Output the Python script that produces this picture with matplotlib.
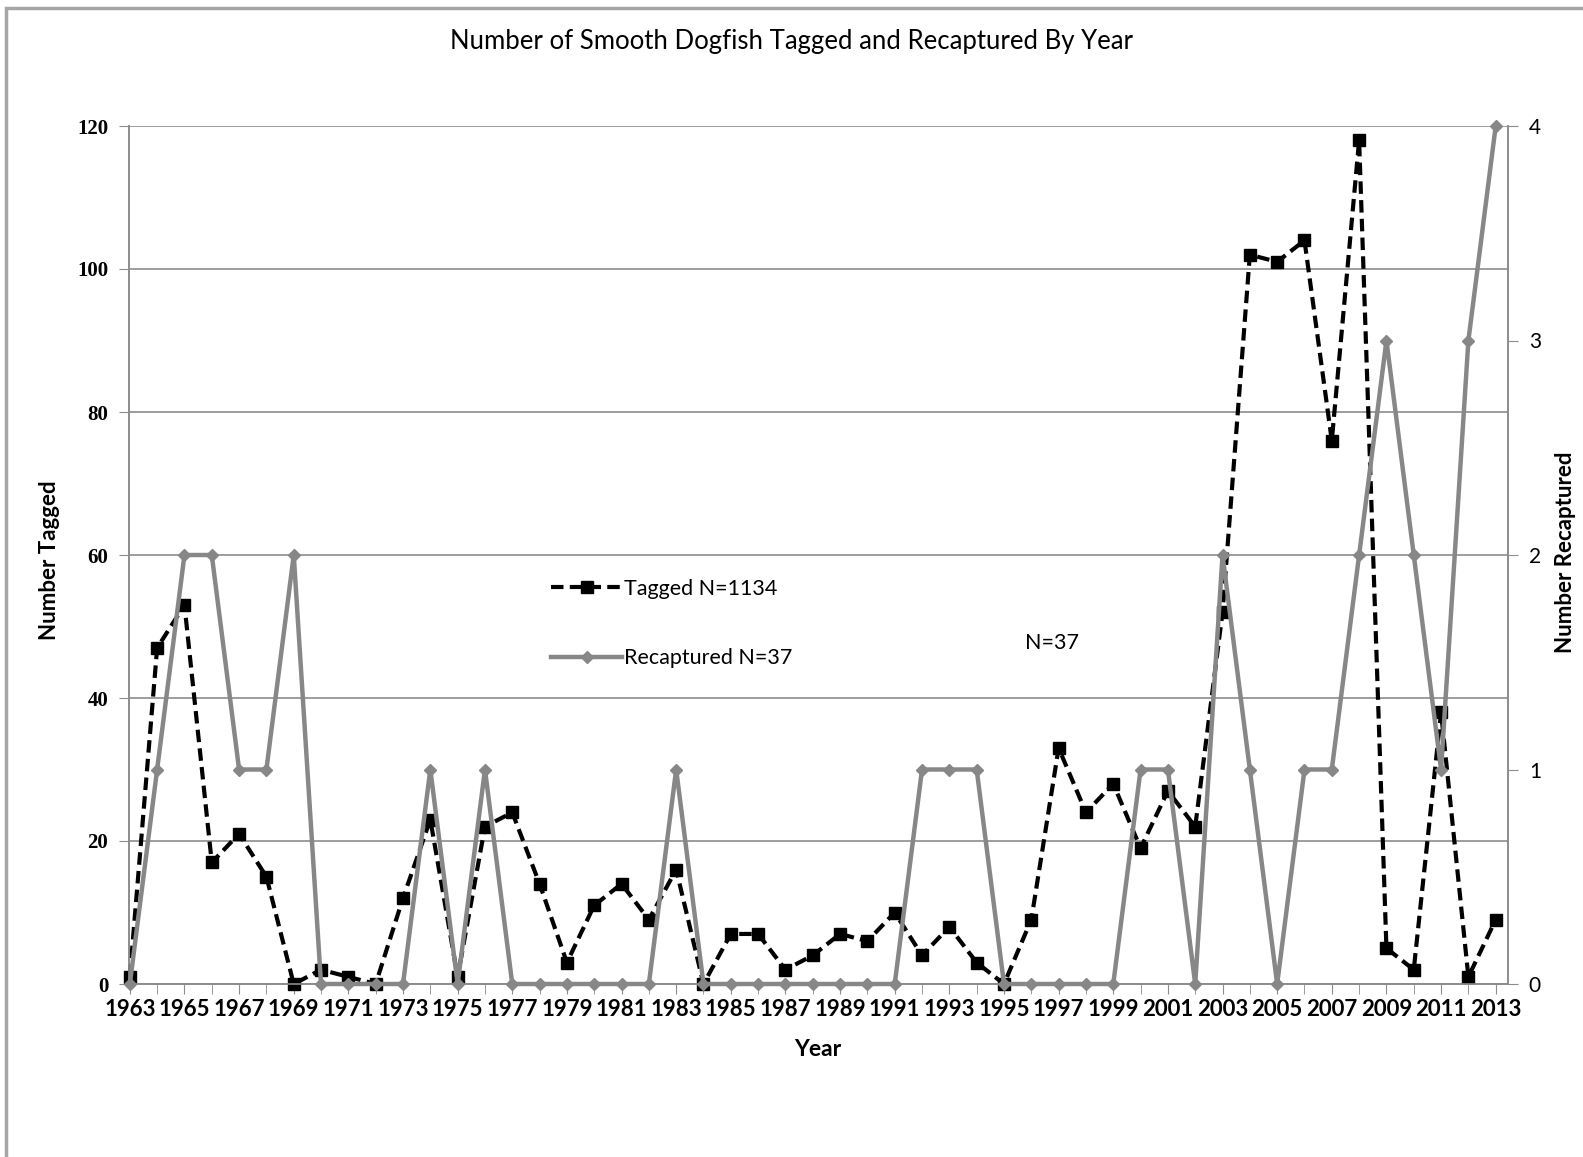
import matplotlib.pyplot as plt
import numpy as np
from matplotlib.lines import Line2D
from matplotlib.patches import Rectangle

# yearly tagging and recapture counts
years = np.arange(1963, 2014)
tagged = [1, 47, 53, 17, 21, 15, 0, 2, 1, 0, 12, 23, 1, 22, 24, 14, 3, 11, 14, 9,
          16, 0, 7, 7, 2, 4, 7, 6, 10, 4, 8, 3, 0, 9, 33, 24, 28, 19, 27, 22,
          52, 102, 101, 104, 76, 118, 5, 2, 38, 1, 9]
recaptured = [0, 1, 2, 2, 1, 1, 2, 0, 0, 0, 0, 1, 0, 1, 0, 0, 0, 0, 0, 0,
              1, 0, 0, 0, 0, 0, 0, 0, 0, 1, 1, 1, 0, 0, 0, 0, 0, 1, 1, 0,
              2, 1, 0, 1, 1, 2, 3, 2, 1, 3, 4]
left_ticks = [0, 20, 40, 60, 80, 100, 120]
right_ticks = [0, 1, 2, 3, 4]

sans = ['Lato', 'DejaVu Sans']
serif = ['Liberation Serif', 'DejaVu Serif']
grey = '#878787'
axis_grey = '#8c8c8c'
dash = (0, (3.0, 1.5))

fig = plt.figure(figsize=(15.83, 11.57), dpi=100)
fig.patches.append(Rectangle((6 / 1583, -0.05), 1.1, 1 - 8 / 1157 + 0.05,
                             transform=fig.transFigure, fill=False,
                             edgecolor='#a6a6a6', linewidth=2.5))

ax = fig.add_axes([129 / 1583, 1 - 984 / 1157, (1508 - 129) / 1583, (984 - 126) / 1157])
ax2 = ax.twinx()

ax.plot(years, tagged, color='black', linestyle=dash, linewidth=3.0,
        marker='s', markersize=8.5, zorder=3, clip_on=False)
ax2.plot(years, recaptured, color=grey, linewidth=3.2, marker='D',
         markersize=6.5, zorder=3, clip_on=False)

ax.set_xlim(1963 - 0.03, 2013.45)
ax.set_ylim(0, 120)
ax2.set_ylim(0, 4)

ax.set_yticks(left_ticks)
ax.set_yticklabels([str(v) for v in left_ticks], fontfamily=serif,
                   fontsize=15, fontweight='bold')
ax2.set_yticks(right_ticks)
ax2.set_yticklabels([str(v) for v in right_ticks], fontfamily=sans, fontsize=15)

ax.set_xticks(years, minor=True)
ax.set_xticks(years[::2])
ax.set_xticklabels([str(y) for y in years[::2]], fontfamily=sans,
                   fontsize=16, fontweight='bold')
ax.tick_params(axis='x', which='both', length=7, color=axis_grey, pad=4)
ax.tick_params(axis='y', length=7, color=axis_grey, pad=8)
ax2.tick_params(axis='y', length=7, color=axis_grey, pad=8)

ax.yaxis.grid(True, color=axis_grey, linewidth=1.2)
for a in (ax, ax2):
    a.spines['top'].set_visible(False)
    for s in ('left', 'right', 'bottom'):
        a.spines[s].set_color(axis_grey)
        a.spines[s].set_linewidth(1.2)

fig.text(0.5, 1 - 42 / 1157, 'Number of Smooth Dogfish Tagged and Recaptured By Year',
         ha='center', va='center', fontsize=18.5, family=sans)
fig.text(50 / 1583, 1 - 560 / 1157, 'Number Tagged', rotation=90, ha='center',
         va='center', fontsize=16, fontweight='bold', family=sans)
fig.text(1565 / 1583, 1 - 552 / 1157, 'Number Recaptured', rotation=90, ha='center',
         va='center', fontsize=16, fontweight='bold', family=sans)
fig.text(818 / 1583, 1 - 1050 / 1157, 'Year', ha='center', va='center',
         fontsize=16.5, fontweight='bold', family=sans)
fig.text(1052 / 1583, 1 - 643 / 1157, 'N=37', ha='center', va='center',
         fontsize=15.5, family=sans)

handles = [
    Line2D([], [], color='black', linestyle=dash, linewidth=3.0,
           marker='s', markersize=8.5),
    Line2D([], [], color=grey, linewidth=3.2, marker='D', markersize=6.5),
]
leg = ax2.legend(handles, ['Tagged N=1134', 'Recaptured N=37'],
                 loc='upper left', bbox_to_anchor=(0.292, 0.495), frameon=False,
                 handlelength=3.3, handletextpad=0.1, labelspacing=2.3,
                 prop={'family': sans, 'size': 15.5})

fig.savefig('out.png', dpi=100)
